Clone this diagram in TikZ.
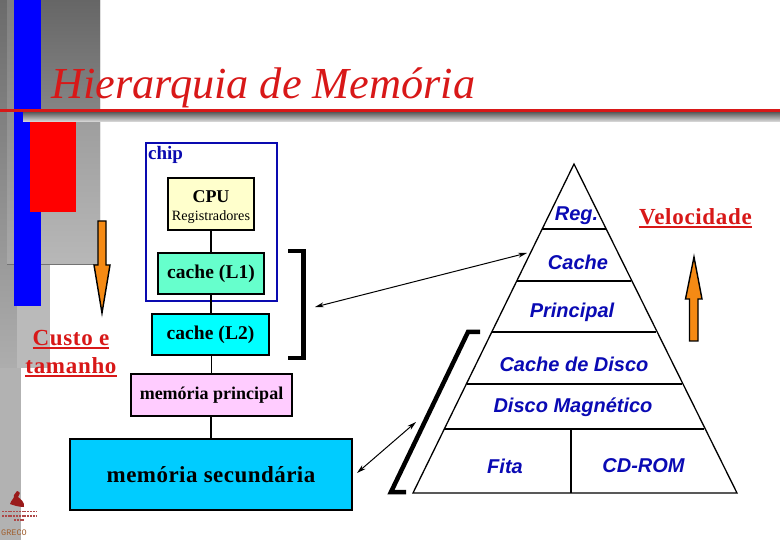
\documentclass[tikz,border=0pt]{standalone}
\usepackage{fontspec}
\setmainfont{Liberation Serif}
\setsansfont{Liberation Sans}
\setmonofont{Liberation Mono}
\usetikzlibrary{arrows.meta}
\definecolor{titlered}{HTML}{D81818}
\definecolor{navy}{HTML}{0A0AB0}
\definecolor{pyrblue}{HTML}{0A0AB4}
\definecolor{orangefill}{HTML}{F58A14}
\definecolor{logored}{HTML}{9A1A1A}
\definecolor{pureblue}{HTML}{0000FF}
\definecolor{purered}{HTML}{FF0000}
\definecolor{cpufill}{HTML}{FFFFCC}
\definecolor{lonefill}{HTML}{66FFCC}
\definecolor{ltwofill}{HTML}{00FFFF}
\definecolor{mainfill}{HTML}{FFCCFF}
\definecolor{secfill}{HTML}{00CCFF}
\definecolor{grecobrown}{HTML}{A06030}
\newcommand\lsp[1]{\addfontfeatures{LetterSpace=#1}}
\newcommand\ulbox[1]{\setbox0\hbox{#1}\leavevmode\vtop{\hbox{\copy0}\kern1.6pt\hrule height 1.7pt}}
\tikzset{
  membox/.style={draw=black,line width=2pt,minimum width=#1,inner sep=0pt,outer sep=0pt},
  link/.style={black,line width=1.6pt},
  pyrline/.style={black,line width=1.3pt},
  pyrlabel/.style={font=\sffamily\bfseries\itshape\fontsize{20}{20}\selectfont,text=pyrblue,inner sep=0pt},
  bracket/.style={black,line width=4.5pt,miter limit=10},
  twoway/.style={black,line width=1pt,{Stealth[length=9pt,width=5pt]}-{Stealth[length=9pt,width=5pt]}},
  bigarrow/.style={draw=black,line width=1.4pt,fill=orangefill,line join=miter},
  sidelabel/.style={font=\bfseries\fontsize{23}{23}\selectfont\lsp{3},text=titlered,inner sep=0pt,anchor=base},
}
\begin{document}
\begin{tikzpicture}[x=1pt,y=-1pt]
\useasboundingbox (0,0) rectangle (780,540);
\fill[white] (0,0) rectangle (780,540);
% background bands
\fill[black!30] (0,0) rectangle (21,540);
\shade[top color=black!58,bottom color=black!32] (0,0) rectangle (17,368);
\fill[black!27] (17,264) rectangle (50,368);
\shade[top color=black!50,bottom color=black!34] (7,0) rectangle (100,264);
\shade[top color=black!60,bottom color=black!48] (41,0) rectangle (100,110);
\shade[top color=black!38,bottom color=black!28] (41,122) rectangle (100,264);
\draw[black!55,line width=.6pt] (7,264) -- (100,264);
\fill[pureblue] (14,0) rectangle (41,306);
\shade[top color=black!65,bottom color=black!12] (23,112) rectangle (780,122);
\fill[purered] (30,122) rectangle (76,212);
\fill[titlered] (0,109.5) rectangle (780,112);
% title
\node[anchor=base west,inner sep=0pt,text=titlered,font=\itshape\fontsize{44.3}{44.3}\selectfont] (title) at (51,99) {Hierarquia de Memória};
% memory stack
\node[draw=navy,line width=1.8pt,minimum width=131pt,minimum height=158pt,inner sep=0pt] (chipbox) at (211.5,222) {};
\node[anchor=base west,inner sep=0pt,text=navy,font=\bfseries\fontsize{19}{19}\selectfont] (chiplabel) at (148,160) {chip};
\node[membox=86pt,minimum height=52pt,fill=cpufill] (cpu) at (211,204) {};
\node[inner sep=0pt,font=\bfseries\fontsize{18}{18}\selectfont] (cputext) at (211,196.5) {CPU};
\node[inner sep=0pt,font=\fontsize{14.2}{14.2}\selectfont] (regs) at (211,217) {Registradores};
\node[membox=106pt,minimum height=41pt,fill=lonefill,font=\bfseries\fontsize{19.5}{19.5}\selectfont\lsp{0.5}] (l1) at (211,273.5) {\raisebox{-1pt}{cache (L1)}};
\node[membox=117pt,minimum height=41pt,fill=ltwofill,font=\bfseries\fontsize{19.5}{19.5}\selectfont\lsp{0.5}] (l2) at (210.5,334.5) {cache (L2)};
\node[membox=161pt,minimum height=41pt,fill=mainfill,font=\bfseries\fontsize{18}{18}\selectfont] (main) at (211.5,395) {memória principal};
\node[membox=282pt,minimum height=71pt,fill=secfill,font=\bfseries\fontsize{23}{23}\selectfont\lsp{2}] (sec) at (211,474.5) {\raisebox{-1pt}{memória secundária}};
\draw[link] (cpu) -- (l1);
\draw[link] (l1) -- (l2.north -| l1);
\draw[link] (l2.south -| main) -- (main.north);
\draw[link] (main.south -| sec) -- (sec.north);
% brackets
\coordinate (rbA) at (288,251);
\coordinate (rbB) at (303.5,251);
\coordinate (rbC) at (303.5,358);
\coordinate (rbD) at (288,358);
\draw[bracket] (rbA) -- (rbB) -- (rbC) -- (rbD);
\coordinate (lbA) at (480,332);
\coordinate (lbB) at (468,332);
\coordinate (lbC) at (391,492);
\coordinate (lbD) at (406,492);
\draw[bracket] (lbA) -- (lbB) -- (lbC) -- (lbD);
% pyramid
\coordinate (apex) at (574,164);
\coordinate (bl) at (413,493);
\coordinate (br) at (737,493);
\draw[pyrline,line join=miter] (apex) -- (br) -- (bl) -- cycle;
\foreach \n/\y/\xa/\xb in {a/229/542.2/605.8,b/281/516.8/631.2,c/332/491.8/656.2,d/384/466.5/682,e/429/444.3/703.5}{
  \coordinate (\n L) at (\xa,\y);
  \coordinate (\n R) at (\xb,\y);
  \draw[pyrline] (\n L) -- (\n R);
}
\coordinate (vt) at (571,429);
\coordinate (vb) at (571,493);
\draw[pyrline] (vt) -- (vb);
\node[pyrlabel] (p1) at (576.5,216) {Reg.};
\node[pyrlabel] (p2) at (578,262) {Cache};
\node[pyrlabel] (p3) at (572,312) {Principal};
\node[pyrlabel] (p4) at (574,364) {Cache de Disco};
\node[pyrlabel] (p5) at (573,407.5) {Disco Magnético};
\node[pyrlabel] (p6) at (505,466) {Fita};
\node[pyrlabel] (p7) at (643.5,466) {CD-ROM};
% two-way arrows
\coordinate (t1a) at (315,307);
\coordinate (t1b) at (527,253);
\draw[twoway] (t1a) -- (t1b);
\coordinate (t2a) at (357,473);
\coordinate (t2b) at (416,422);
\draw[twoway] (t2a) -- (t2b);
% big arrows
\draw[bigarrow] (98,221) -- (106,221) -- (106,265) -- (110,265) -- (102,313) -- (94,265) -- (98,265) -- cycle;
\draw[bigarrow] (689.5,341) -- (698,341) -- (698,299) -- (702,299) -- (694,257) -- (685.5,299) -- (689.5,299) -- cycle;
% side labels
\node[sidelabel] (cost) at (71,345.5) {\ulbox{Custo e}};
\node[sidelabel] (size) at (71,373.5) {\ulbox{tamanho}};
\node[sidelabel] (speed) at (695.5,224.5) {\ulbox{Velocidade}};
% logo
\fill[logored] (17,491) .. controls (22,492) and (19,495) .. (18,497) .. controls (21,499) and (25,503) .. (24,507) .. controls (18,507) and (13,505) .. (10,504) .. controls (11,500) and (15,498) .. (14,495) -- cycle;
\foreach \y/\xa/\xb in {511.5/2/36,516/2/36,520/14/24}
  \draw[logored!80,line width=1.6pt,dash pattern=on 2pt off .8pt] (\xa,\y) -- (\xb,\y);
\node[anchor=west,inner sep=0pt,text=grecobrown,font=\ttfamily\fontsize{8.5}{8.5}\selectfont] (greco) at (1,533) {GRECO};
\end{tikzpicture}
\end{document}
